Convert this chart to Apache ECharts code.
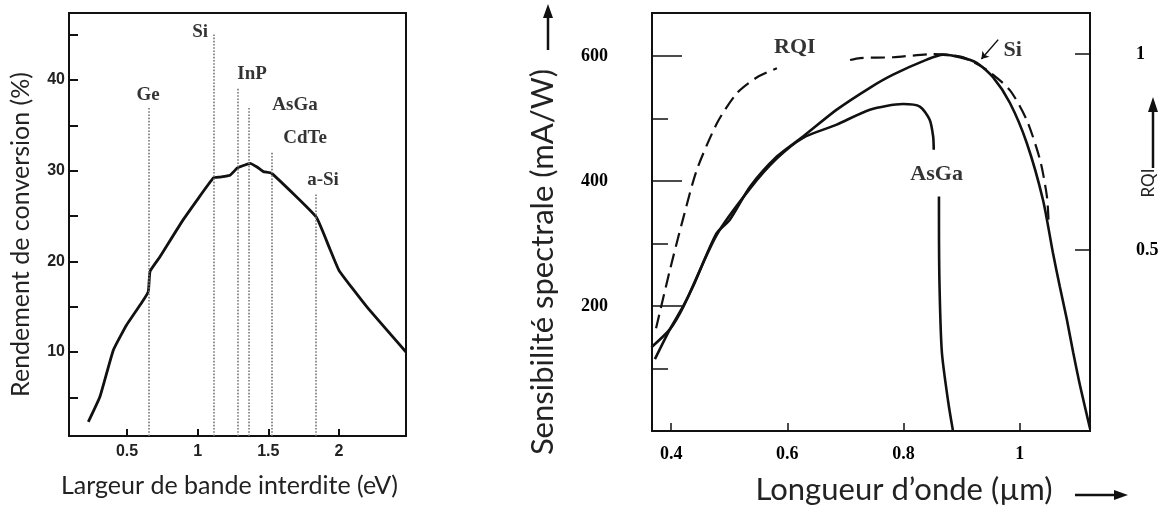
<!DOCTYPE html>
<html>
<head>
<meta charset="utf-8">
<script src="https://cdn.jsdelivr.net/npm/echarts@6/dist/echarts.min.js"></script>
<style>
  html, body { margin: 0; padding: 0; background: #fff; }
  #main { width: 1170px; height: 508px; }
</style>
</head>
<body>
<div id="main"></div>
<script>
// --- left chart: conversion efficiency vs band gap ---
const gapEv = [0.226, 0.309, 0.403, 0.498, 0.615, 0.651, 0.663, 0.733, 0.898, 1.111, 1.16, 1.229, 1.281, 1.33, 1.37, 1.42, 1.465, 1.524, 1.838, 1.937, 2.0, 2.196, 2.474]
const efficiency = [2.3, 5.1, 10.2, 13.0, 15.7, 16.7, 18.9, 20.5, 24.6, 29.2, 29.3, 29.5, 30.3, 30.6, 30.8, 30.4, 29.9, 29.7, 24.9, 21.3, 19.0, 15.0, 10.0]

const materials = ['Ge', 'Si', 'InP', 'AsGa', 'CdTe', 'a-Si']
const materialGap = [0.651, 1.115, 1.281, 1.358, 1.524, 1.838]
const materialTop = [36.9, 45.2, 39.1, 36.9, 32.1, 27.5]
const materialLabelAt = [[0.649, 38.3], [1.017, 45.3], [1.385, 40.6], [1.689, 37.2], [1.76, 33.6], [1.887, 29.0]]

const gapTicks = [0.5, 1, 1.5, 2]
const effTicks = [5, 10, 15, 20, 25, 30, 35, 40, 45]
const effLabels = [10, 20, 30, 40]

// --- right chart: spectral sensitivity vs wavelength ---
const siWl = [0.372, 0.398, 0.421, 0.438, 0.478, 0.501, 0.536, 0.582, 0.627, 0.685, 0.742, 0.782, 0.84, 0.868, 0.897, 0.926, 0.954, 0.983, 1.012, 1.04, 1.057, 1.069, 1.081, 1.092, 1.104, 1.121]
const siSens = [115, 163, 200, 232, 316, 338, 391, 439, 471, 514, 549, 570, 594, 602, 598, 589, 566, 525, 461, 370, 286, 231, 179, 126, 72, 4]

const asgaWl = [0.366, 0.398, 0.421, 0.478, 0.536, 0.582, 0.627, 0.685, 0.742, 0.799, 0.828, 0.845, 0.851, 0.852, 0.856, 0.861, 0.861, 0.862, 0.866, 0.877, 0.885]
const asgaSens = [134, 163, 199, 313, 388, 436, 469, 490, 514, 523, 519, 498, 471, 450, null, 375, 338, 231, 126, 46, 1]

const rqiWl = [0.374, 0.398, 0.42, 0.444, 0.479, 0.513, 0.548, 0.582, 0.645, 0.708, 0.725, 0.782, 0.851, 0.9, 0.943, 0.983, 1.012, 1.035, 1.047, 1.05]
const rqiVal = [0.30, 0.45, 0.577, 0.704, 0.824, 0.9, 0.941, 0.964, null, 0.985, 0.99, 0.992, 1.0, 0.993, 0.96, 0.908, 0.832, 0.73, 0.635, 0.56]

const curveLabels = ['RQI', 'Si', 'AsGa']
const curveLabelAt = [[0.613, 613], [0.988, 609], [0.857, 410]]
const siPointer = [[0.963, 626], [0.934, 595]]

const wlTicks = [0.4, 0.6, 0.8, 1]
const sensTicks = [200, 400, 600]
const sensMinorTicks = [100, 300, 500]
const rqiTicks = [0.5, 1]

const pairs = (xs, ys) => xs.map((x, i) => [x, ys[i]])
const serif = "'Liberation Serif', 'DejaVu Serif', serif"
const sans = "Lato, 'Open Sans', sans-serif"
const ink = '#111'

const chart = echarts.init(document.getElementById('main'))

const option = {
  animation: false,
  backgroundColor: '#fff',
  grid: [
    { left: 69, top: 13, width: 337, height: 423, outerBoundsMode: 'none', show: true, borderColor: ink, borderWidth: 2 },
    { left: 652, top: 13, width: 438, height: 418, outerBoundsMode: 'none', show: true, borderColor: ink, borderWidth: 2 },
    { left: 652, top: 13, width: 438, height: 418, outerBoundsMode: 'none', show: false }
  ],
  xAxis: [
    {
      gridIndex: 0, type: 'value', min: 0.0895, max: 2.474,
      name: 'Largeur de bande interdite (eV)', nameLocation: 'middle', nameGap: 37,
      nameTextStyle: { fontFamily: sans, fontSize: 25, color: '#222', padding: [0, 16, 0, 0] },
      axisLine: { show: false },
      splitLine: { show: false },
      axisTick: { customValues: gapTicks, inside: true, length: 7, lineStyle: { color: ink, width: 2 } },
      axisLabel: { customValues: gapTicks, margin: 8, fontFamily: 'Liberation Sans', fontWeight: 'bold', fontSize: 16, color: '#222' }
    },
    {
      gridIndex: 1, type: 'value', min: 0.367, max: 1.121,
      name: 'Longueur d\u2019onde (\u00b5m)', nameLocation: 'middle', nameGap: 43,
      nameTextStyle: { fontFamily: sans, fontSize: 31, color: '#222', padding: [0, 0, 0, 66] },
      axisLine: { show: false },
      splitLine: { show: false },
      axisTick: { customValues: wlTicks, inside: true, length: 8, lineStyle: { color: ink, width: 1.5 } },
      axisLabel: { customValues: wlTicks, margin: 14, fontFamily: serif, fontWeight: 'bold', fontSize: 18, color: '#000' }
    },
    { gridIndex: 2, type: 'value', min: 0.367, max: 1.121, show: false }
  ],
  yAxis: [
    {
      gridIndex: 0, type: 'value', min: 0.74, max: 47.39,
      name: 'Rendement de conversion (%)', nameLocation: 'middle', nameRotate: 90, nameGap: 36,
      nameTextStyle: { fontFamily: sans, fontSize: 25, color: '#222', padding: [0, 20, 0, 0] },
      axisLine: { show: false },
      splitLine: { show: false },
      axisTick: { customValues: effTicks, inside: true, length: 9, lineStyle: { color: ink, width: 2 } },
      axisLabel: { customValues: effLabels, margin: 4, fontFamily: 'Liberation Sans', fontWeight: 'bold', fontSize: 16, color: '#222' }
    },
    {
      gridIndex: 1, type: 'value', min: 0, max: 668.6,
      name: 'Sensibilit\u00e9 spectrale (mA/W)', nameLocation: 'middle', nameRotate: 90, nameGap: 94,
      nameTextStyle: { fontFamily: sans, fontSize: 31, color: '#222', padding: [0, 80, 0, 0] },
      axisLine: { show: false },
      splitLine: { show: false },
      axisTick: { customValues: sensTicks, inside: true, length: 30, lineStyle: { color: ink, width: 1.5 } },
      axisLabel: { customValues: sensTicks, margin: 44, fontFamily: serif, fontWeight: 'bold', fontSize: 18, color: '#000', padding: [10, 0, 0, 0] }
    },
    {
      gridIndex: 2, type: 'value', min: 0, max: 668.6,
      axisLine: { show: false },
      splitLine: { show: false },
      axisTick: { customValues: sensMinorTicks, inside: true, length: 16, lineStyle: { color: ink, width: 1.5 } },
      axisLabel: { show: false }
    },
    {
      gridIndex: 1, type: 'value', position: 'right', min: 0.038, max: 1.105,
      name: 'RQI', nameLocation: 'middle', nameRotate: 90, nameGap: 50, nameMoveOverlap: false,
      nameTextStyle: { fontFamily: sans, fontSize: 17, color: '#222', padding: [0, 0, 0, 78] },
      axisLine: { show: false },
      splitLine: { show: false },
      axisTick: { customValues: rqiTicks, inside: true, length: 15, lineStyle: { color: ink, width: 1.5 } },
      axisLabel: { customValues: rqiTicks, margin: 46, align: 'left', fontFamily: serif, fontWeight: 'bold', fontSize: 18, color: '#000', padding: [8, 0, 0, 0] }
    }
  ],
  graphic: [
    // arrows drawn next to the axis titles
    { type: 'line', shape: { x1: 548, y1: 50, x2: 548, y2: 16 }, style: { stroke: ink, lineWidth: 2.5 } },
    { type: 'polygon', shape: { points: [[543, 18], [548, 4], [553, 18]] }, style: { fill: ink } },
    { type: 'line', shape: { x1: 1075, y1: 495, x2: 1116, y2: 495 }, style: { stroke: ink, lineWidth: 2.5 } },
    { type: 'polygon', shape: { points: [[1114, 490], [1128, 495], [1114, 500]] }, style: { fill: ink } },
    { type: 'line', shape: { x1: 1153, y1: 168, x2: 1153, y2: 110 }, style: { stroke: ink, lineWidth: 2.5 } },
    { type: 'polygon', shape: { points: [[1148, 112], [1153, 97], [1158, 112]] }, style: { fill: ink } }
  ],
  series: [
    {
      name: 'Rendement', type: 'line', xAxisIndex: 0, yAxisIndex: 0,
      data: pairs(gapEv, efficiency), showSymbol: false, smooth: 0.12,
      lineStyle: { color: ink, width: 2.8 },
      markLine: {
        silent: true, symbol: ['none', 'none'], label: { show: false },
        lineStyle: { type: 'dotted', color: '#777', width: 1.6 },
        data: materialGap.map((g, i) => [{ coord: [g, 0.74] }, { coord: [g, materialTop[i]] }])
      }
    },
    {
      name: 'materials', type: 'scatter', xAxisIndex: 0, yAxisIndex: 0, symbolSize: 0,
      itemStyle: { color: ink },
      data: materials.map((m, i) => ({ name: m, value: materialLabelAt[i] })),
      label: { show: true, position: 'inside', formatter: '{b}', fontFamily: serif, fontWeight: 'bold', fontSize: 19, color: '#000', textBorderWidth: 0 }
    },
    {
      name: 'Si', type: 'line', xAxisIndex: 1, yAxisIndex: 1,
      data: pairs(siWl, siSens), showSymbol: false, smooth: 0.25,
      lineStyle: { color: ink, width: 2.6 },
      markLine: {
        silent: true, symbol: ['none', 'arrow'], symbolSize: 7, label: { show: false },
        lineStyle: { type: 'solid', color: ink, width: 1.5 },
        data: [[{ coord: siPointer[0] }, { coord: siPointer[1] }]]
      }
    },
    {
      name: 'AsGa', type: 'line', xAxisIndex: 1, yAxisIndex: 1,
      data: pairs(asgaWl, asgaSens), showSymbol: false, smooth: 0.25, connectNulls: false,
      lineStyle: { color: ink, width: 2.6 }
    },
    {
      name: 'RQI', type: 'line', xAxisIndex: 1, yAxisIndex: 3,
      data: pairs(rqiWl, rqiVal), showSymbol: false, smooth: 0.25, connectNulls: false,
      lineStyle: { color: ink, width: 2.2, type: [14, 7] }
    },
    {
      name: 'curve labels', type: 'scatter', xAxisIndex: 1, yAxisIndex: 1, symbolSize: 0,
      itemStyle: { color: ink },
      data: curveLabels.map((c, i) => ({ name: c, value: curveLabelAt[i] })),
      label: { show: true, position: 'inside', formatter: '{b}', fontFamily: serif, fontWeight: 'bold', fontSize: 22, color: '#000', textBorderWidth: 0 }
    }
  ]
}

chart.setOption(option)
</script>
</body>
</html>
